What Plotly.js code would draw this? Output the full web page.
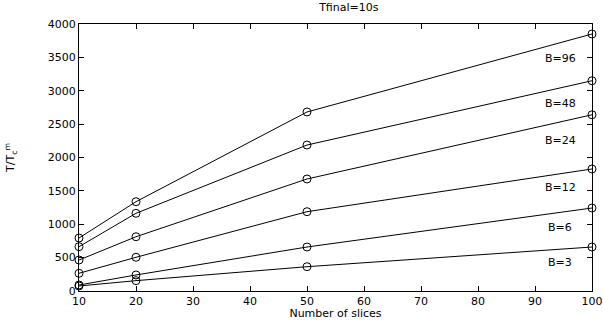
<!DOCTYPE html>
<html>
<head>
<meta charset="utf-8">
<script src="https://cdn.plot.ly/plotly-3.0.1.min.js"></script>
<style>html,body{margin:0;padding:0;background:#fff;}#chart{width:603px;height:320px;}</style>
</head>
<body>
<div id="chart"></div>
<script>
var slices = [10, 20, 50, 100];
var B3  = [75, 155, 364, 659];
var B6  = [90, 240, 659, 1243];
var B12 = [265, 505, 1188, 1828];
var B24 = [464, 813, 1678, 2640];
var B48 = [664, 1164, 2187, 3150];
var B96 = [794, 1338, 2682, 3850];
var seriesNames = ["B=3", "B=6", "B=12", "B=24", "B=48", "B=96"];
var labelX = [94.4, 94.4, 94.4, 94.4, 94.4, 94.4];
var labelY = [434, 944, 1558, 2262, 2816, 3476];
var xTicks = [10, 20, 30, 40, 50, 60, 70, 80, 90, 100];
var yTicks = [0, 500, 1000, 1500, 2000, 2500, 3000, 3500, 4000];

var FONT = 'DejaVu Sans, Liberation Sans, Arial, sans-serif';
var all = [B3, B6, B12, B24, B48, B96];
var traces = all.map(function (ys, i) {
  return {
    x: slices, y: ys, type: 'scatter', mode: 'lines+markers', name: seriesNames[i],
    line: {color: '#000', width: 1},
    marker: {symbol: 'circle-open', size: 8, color: '#000', line: {width: 1, color: '#000'}},
    showlegend: false, cliponaxis: false
  };
});

var annotations = seriesNames.map(function (n, i) {
  return {x: labelX[i], y: labelY[i], xref: 'x', yref: 'y', text: n, showarrow: false,
          font: {family: FONT, size: 11, color: '#000'}};
});

var axisCommon = {
  showgrid: false, zeroline: false, showline: true, mirror: 'ticks',
  linecolor: '#000', linewidth: 1, ticks: 'inside', ticklen: 5, tickcolor: '#000',
  tickfont: {family: FONT, size: 11, color: '#000'}
};

var layout = {
  width: 603, height: 320,
  margin: {l: 79, r: 11, t: 24, b: 29},
  paper_bgcolor: '#fff', plot_bgcolor: '#fff',
  title: {text: 'Tfinal=10s', x: 0.526, xref: 'paper', y: 0.99, yanchor: 'top',
          font: {family: FONT, size: 11, color: '#000'}},
  xaxis: Object.assign({}, axisCommon, {
    range: [10, 100], tickvals: xTicks, ticktext: xTicks.map(String),
    title: {text: 'Number of slices', standoff: 0,
            font: {family: FONT, size: 11, color: '#000'}}
  }),
  yaxis: Object.assign({}, axisCommon, {
    range: [0, 4000], tickvals: yTicks, ticktext: yTicks.map(String),
    title: {text: 'T/T<sub>c</sub><sup>m</sup>', standoff: 30,
            font: {family: FONT, size: 11, color: '#000'}}
  }),
  annotations: annotations
};

Plotly.newPlot('chart', traces, layout, {displayModeBar: false, staticPlot: true});
</script>
</body>
</html>
